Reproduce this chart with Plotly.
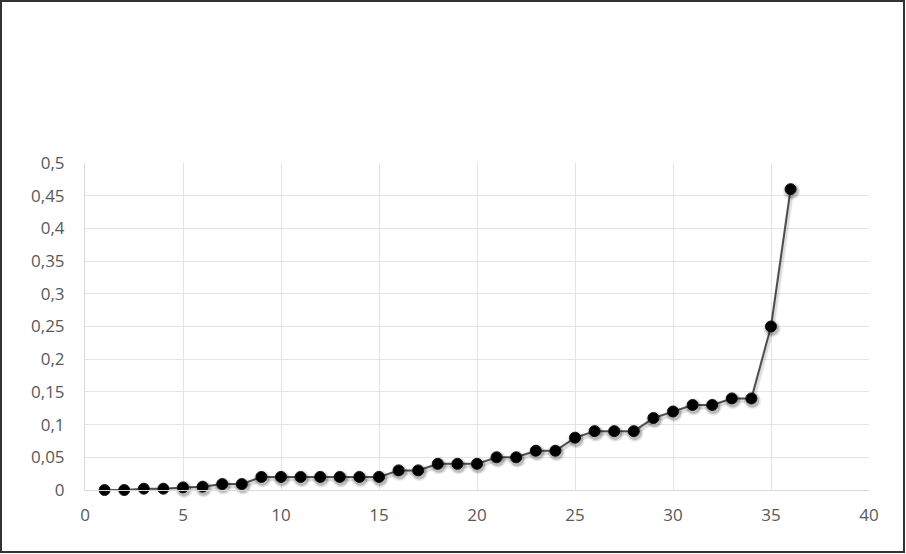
import plotly.graph_objects as go

x_values = list(range(1, 37))
y_values = [0, 0, 0.002, 0.002, 0.004, 0.005, 0.009, 0.009, 0.02, 0.02,
            0.02, 0.02, 0.02, 0.02, 0.02, 0.03, 0.03, 0.04, 0.04, 0.04,
            0.05, 0.05, 0.06, 0.06, 0.08, 0.09, 0.09, 0.09, 0.11, 0.12,
            0.13, 0.13, 0.14, 0.14, 0.25, 0.46]

X_RANGE = [0, 40]
Y_RANGE = [0, 0.5]
PLOT_W, PLOT_H = 784, 327
SHADOW_DX, SHADOW_DY = 1, 2  # pixels

fig = go.Figure()
# soft shadow: same data drawn on an overlay axis pair offset by a few pixels
for size, alpha, lw in [(17, 0.10, 6), (14, 0.18, 4)]:
    fig.add_trace(go.Scatter(
        x=x_values, y=y_values, mode="lines+markers", xaxis="x2", yaxis="y2",
        line=dict(color=f"rgba(0,0,0,{alpha/2})", width=lw),
        marker=dict(color=f"rgba(0,0,0,{alpha})", size=size, line=dict(width=0)),
        showlegend=False, hoverinfo="skip", cliponaxis=False,
    ))
fig.add_trace(go.Scatter(
    x=x_values, y=y_values, mode="lines+markers",
    line=dict(color="#595959", width=2),
    marker=dict(color="black", size=11, line=dict(color="#1a1a1a", width=1)),
    showlegend=False, cliponaxis=False,
))

axis_font = dict(family="Open Sans, Liberation Sans, sans-serif", size=17, color="#595959")
dx = SHADOW_DX * (X_RANGE[1] - X_RANGE[0]) / PLOT_W
dy = SHADOW_DY * (Y_RANGE[1] - Y_RANGE[0]) / PLOT_H

fig.update_layout(
    width=906, height=554,
    margin=dict(l=85, r=37, t=163, b=64),
    paper_bgcolor="white", plot_bgcolor="white",
    separators=",.",
    xaxis=dict(range=X_RANGE, dtick=5, tick0=0, showgrid=True, gridcolor="#e3e3e3",
               gridwidth=1, zeroline=False, showline=True, linecolor="#d9d9d9",
               tickfont=axis_font, ticks="", ticklabelstandoff=10),
    yaxis=dict(range=Y_RANGE, dtick=0.05, tick0=0, showgrid=True, gridcolor="#e3e3e3",
               gridwidth=1, zeroline=False, showline=True, linecolor="#d9d9d9",
               tickfont=axis_font, ticks="", ticklabelstandoff=16),
    xaxis2=dict(range=[X_RANGE[0] - dx, X_RANGE[1] - dx], overlaying="x", visible=False),
    yaxis2=dict(range=[Y_RANGE[0] + dy, Y_RANGE[1] + dy], overlaying="y", visible=False),
    shapes=[dict(type="rect", xref="paper", yref="paper",
                 x0=(1 - 85) / 784, x1=(904 - 85) / 784,
                 y0=(490 - 552) / 327, y1=(490 - 1) / 327,
                 line=dict(color="#333333", width=2), fillcolor="rgba(0,0,0,0)")],
)

fig.write_html("out.html", config={"displayModeBar": False},
               post_script="document.body.style.margin='0';")
